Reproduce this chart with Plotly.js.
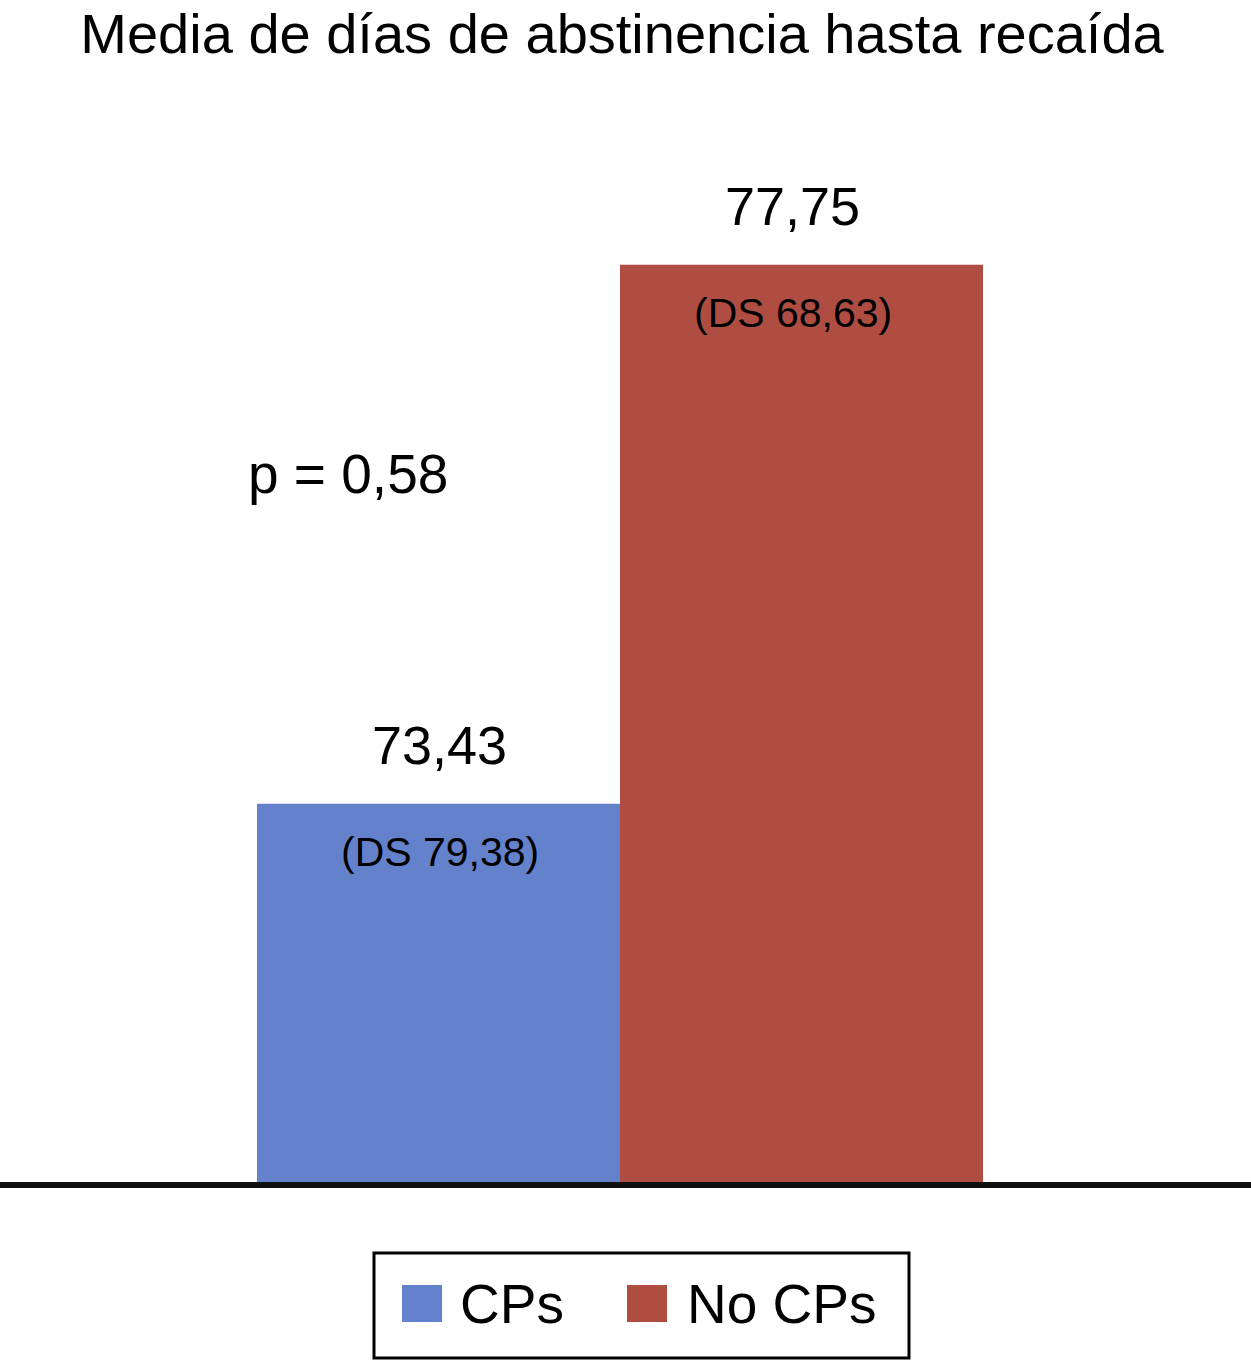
<!DOCTYPE html>
<html>
<head>
<meta charset="utf-8">
<script src="https://cdn.plot.ly/plotly-3.0.1.min.js"></script>
<style>html,body{margin:0;padding:0;background:#fff;}</style>
</head>
<body>
<div id="chart" style="width:1251px;height:1361px;"></div>
<script>
// ---- data ----
const groups = ["CPs", "No CPs"];
const means = [73.43, 77.75];
const sds = [79.38, 68.63];
const pValue = 0.58;
const category = ["Media"];
const titleText = "Media de días de abstinencia hasta recaída";
const colors = ["#6482CB", "#AF4D43"];

// ---- layout helpers ----
const W = 1251, H = 1361, T = 100, B = 179;
const plotH = H - T - B;
const PX_PER_UNIT = 1240;
const BARGAP = 0.4145;
const fam = '"Liberation Sans", Arial, Helvetica, sans-serif';
const fmt = v => v.toFixed(2).replace('.', ',');
const px2x = px => px / W;
const px2y = py => (H - B - py) / plotH;
const barCenter = i => (i - 0.5) * (1 - BARGAP) / 2;
const labelShift = [1, -9];

const traces = groups.map((g, i) => ({
  type: 'bar',
  name: g,
  x: category,
  y: [means[i]],
  marker: {color: colors[i], line: {width: 0}},
  hoverinfo: 'none'
}));

const annotations = [];
groups.forEach((g, i) => {
  annotations.push({
    x: barCenter(i), y: means[i], xref: 'x', yref: 'y',
    text: fmt(means[i]), showarrow: false,
    xanchor: 'center', yanchor: 'middle', yshift: 59, xshift: labelShift[i],
    font: {family: fam, size: 54, color: '#000'}
  });
  annotations.push({
    x: barCenter(i), y: means[i], xref: 'x', yref: 'y',
    text: '(DS ' + fmt(sds[i]) + ')', showarrow: false,
    xanchor: 'center', yanchor: 'middle', yshift: -48, xshift: labelShift[i],
    font: {family: fam, size: 41, color: '#000'}
  });
});
annotations.push({
  x: px2x(348), y: px2y(474), xref: 'paper', yref: 'paper',
  text: 'p = ' + fmt(pValue), showarrow: false,
  xanchor: 'center', yanchor: 'middle',
  font: {family: fam, size: 55, color: '#000'}
});

// custom legend (large swatches)
const shapes = [{
  type: 'rect', xref: 'paper', yref: 'paper',
  x0: px2x(374), x1: px2x(909), y0: px2y(1253), y1: px2y(1358),
  line: {color: '#000', width: 3}, fillcolor: 'rgba(0,0,0,0)'
}];
const legendSwatchX = [402, 627];
const legendTextX = [458, 685];
groups.forEach((g, i) => {
  shapes.push({
    type: 'rect', xref: 'paper', yref: 'paper',
    x0: px2x(legendSwatchX[i]), x1: px2x(legendSwatchX[i] + 40),
    y0: px2y(1285), y1: px2y(1322),
    line: {width: 0}, fillcolor: colors[i]
  });
  annotations.push({
    x: px2x(legendTextX[i]), y: px2y(1304), xref: 'paper', yref: 'paper',
    text: g, showarrow: false, xanchor: 'left', yanchor: 'middle',
    font: {family: fam, size: 55, color: '#000'}
  });
});

const layout = {
  width: W, height: H,
  margin: {l: 0, r: 0, t: T, b: B, pad: 0},
  paper_bgcolor: '#fff', plot_bgcolor: '#fff',
  showlegend: false,
  barmode: 'group', bargap: BARGAP, bargroupgap: 0,
  separators: ',.',
  title: {
    text: titleText,
    font: {family: fam, size: 56, color: '#000'},
    xref: 'container', x: 622 / W, xanchor: 'center',
    yref: 'container', y: 1 - 33 / H, yanchor: 'middle'
  },
  xaxis: {
    type: 'category',
    range: [-0.5, -0.5 + W / PX_PER_UNIT],
    showline: true, linewidth: 6, linecolor: '#111',
    showgrid: false, zeroline: false, showticklabels: false, ticks: '',
    fixedrange: true
  },
  yaxis: {
    range: [70.40, 79.07],
    visible: false, showgrid: false, zeroline: false, fixedrange: true
  },
  annotations: annotations,
  shapes: shapes
};

Plotly.newPlot('chart', traces, layout, {staticPlot: true, displayModeBar: false});
</script>
</body>
</html>
